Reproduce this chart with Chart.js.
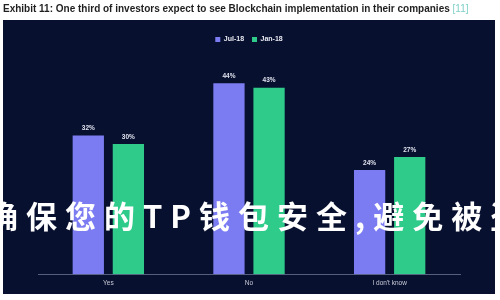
<!DOCTYPE html>
<html>
<head>
<meta charset="utf-8">
<script src="https://cdn.jsdelivr.net/npm/chart.js@4"></script>
<style>
	html, body { margin: 0; padding: 0; background: #ffffff; }
	#wrap { width: 500px; height: 300px; position: relative; }
</style>
</head>
<body>
<div id="wrap"><canvas id="chart" width="500" height="300"></canvas></div>
<script>
	'use strict';
	const titleText = 'Exhibit 11: One third of investors expect to see Blockchain implementation in their companies';
	const titleRef = '[11]';
	const watermarkText = '确保您的TP钱包安全,避免被盗';

	const categories = [ 'Yes', 'No', 'I don\'t know' ];
	const seriesNames = [ 'Jul-18', 'Jan-18' ];
	const jul18 = [ 32, 44, 24 ];
	const jan18 = [ 30, 43, 27 ];

	// page background, navy panel and title
	const backdrop = {
		id: 'backdrop',
		beforeDraw(chart) {
			const ctx = chart.ctx;
			ctx.save();
			ctx.fillStyle = '#ffffff';
			ctx.fillRect(0, 0, chart.width, chart.height);
			ctx.fillStyle = '#08102f';
			ctx.fillRect(3, 20, 492, 274);

			ctx.font = 'bold 10px "Liberation Sans", Arial, sans-serif';
			ctx.textBaseline = 'alphabetic';
			ctx.fillStyle = '#1f1f1f';
			ctx.fillText(titleText, 3, 12);
			const w = ctx.measureText(titleText + ' ').width;
			ctx.font = '10px "Liberation Sans", Arial, sans-serif';
			ctx.fillStyle = '#7fcfc7';
			ctx.fillText(titleRef, 3 + w, 12);
			ctx.restore();
		}
	};

	// value labels above bars
	const valueLabels = {
		id: 'valueLabels',
		afterDatasetsDraw(chart) {
			const ctx = chart.ctx;
			ctx.save();
			ctx.font = 'bold 6.5px "Liberation Sans", Arial, sans-serif';
			ctx.fillStyle = '#dfe2ee';
			ctx.textAlign = 'center';
			ctx.textBaseline = 'bottom';
			chart.data.datasets.forEach((ds, i) => {
				chart.getDatasetMeta(i).data.forEach((bar, idx) => {
					ctx.fillText(ds.data[idx] + '%', bar.x, bar.y - 4);
				});
			});
			ctx.restore();
		}
	};

	// overlaid watermark text
	const watermark = {
		id: 'watermark',
		afterDraw(chart) {
			const ctx = chart.ctx;
			ctx.save();
			ctx.font = 'bold 31px "Noto Sans CJK SC", sans-serif';
			ctx.fillStyle = '#ffffff';
			ctx.textBaseline = 'middle';
			ctx.letterSpacing = '8px';
			ctx.fillText(watermarkText, -13, 216);
			ctx.restore();
		}
	};

	new Chart(document.getElementById('chart').getContext('2d'), {
		type: 'bar',
		data: {
			labels: categories,
			datasets: [
				{
					label: seriesNames[0],
					data: jul18,
					backgroundColor: '#7c7cf2',
					borderWidth: 0,
					categoryPercentage: 0.57,
					barPercentage: 0.78
				},
				{
					label: seriesNames[1],
					data: jan18,
					backgroundColor: '#2fcb8a',
					borderWidth: 0,
					categoryPercentage: 0.57,
					barPercentage: 0.78
				}
			]
		},
		options: {
			responsive: false,
			animation: false,
			layout: {
				padding: { top: 28, left: 38, right: 40, bottom: 8 }
			},
			plugins: {
				legend: {
					position: 'top',
					labels: {
						color: '#e8eaf2',
						boxWidth: 5,
						boxHeight: 5,
						padding: 8,
						font: { size: 7, weight: 'bold', family: '"Liberation Sans", Arial, sans-serif' }
					}
				},
				title: { display: false },
				tooltip: { enabled: false }
			},
			scales: {
				x: {
					grid: { display: false, drawTicks: false },
					border: { color: '#56607e', width: 1 },
					ticks: {
						color: '#c9ccd8',
						padding: 5,
						font: { size: 6.5, family: '"Liberation Sans", Arial, sans-serif' }
					}
				},
				y: {
					display: false,
					min: 0,
					max: 51
				}
			}
		},
		plugins: [ backdrop, valueLabels, watermark ]
	});
</script>
</body>
</html>
